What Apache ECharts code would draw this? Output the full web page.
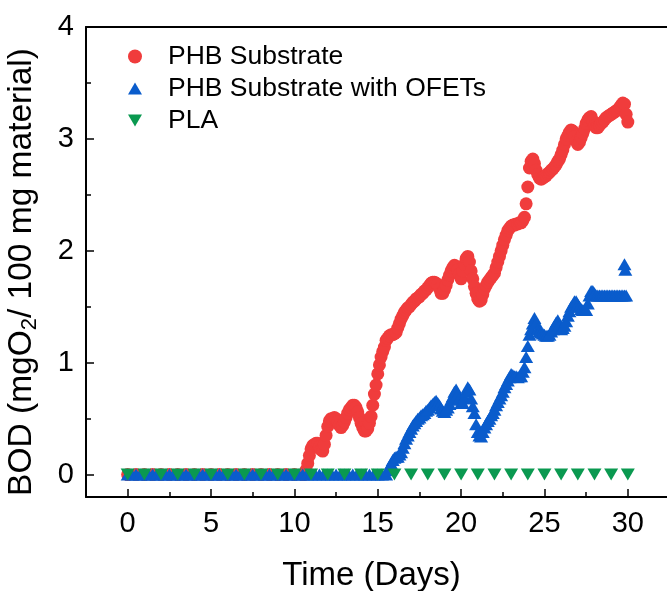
<!DOCTYPE html>
<html>
<head>
<meta charset="utf-8">
<script src="https://cdn.jsdelivr.net/npm/echarts@6/dist/echarts.min.js"></script>
<style>
  html, body { margin: 0; padding: 0; background: #fff; }
  #chart { width: 667px; height: 591px; }
</style>
</head>
<body>
<div id="chart"></div>
<script>
// tick labels
var xMajorTicks = [0, 5, 10, 15, 20, 25, 30];
var xMinorTicks = [2.5, 7.5, 12.5, 17.5, 22.5, 27.5];
var yMajorTicks = [0, 1, 2, 3, 4];
var yMinorTicks = [0.5, 1.5, 2.5, 3.5];

// PHB Substrate (time in days, BOD)
var phbDays = [0, 0.5, 1, 1.5, 2, 2.5, 3, 3.5, 4, 4.5, 5, 5.5, 6, 6.5, 7, 7.5, 8, 8.5, 9, 9.5, 10, 10.5,
  10.6, 10.7, 10.8, 10.9, 11.0, 11.1, 11.2, 11.3, 11.4, 11.5, 11.6, 11.7, 11.8, 11.9,
  12.0, 12.1, 12.2, 12.3, 12.4, 12.5, 12.6, 12.7, 12.8, 12.9, 13.0, 13.1, 13.2, 13.3, 13.4, 13.5, 13.6, 13.7, 13.8, 13.9,
  14.0, 14.1, 14.2, 14.3, 14.4, 14.5, 14.6, 14.7, 14.8, 14.9, 15.0, 15.1, 15.2, 15.3, 15.4, 15.5, 15.6, 15.7, 15.8, 15.9,
  16.0, 16.1, 16.2, 16.3, 16.4, 16.5, 16.6, 16.7, 16.8, 16.9, 17.0, 17.1, 17.2, 17.3, 17.4, 17.5, 17.6, 17.7, 17.8, 17.9,
  18.0, 18.1, 18.2, 18.3, 18.4, 18.5, 18.6, 18.7, 18.8, 18.9, 19.0, 19.1, 19.2, 19.3, 19.4, 19.5, 19.6, 19.7, 19.8, 19.9,
  20.0, 20.1, 20.2, 20.3, 20.4, 20.5, 20.6, 20.7, 20.8, 20.9, 21.0, 21.1, 21.2, 21.3, 21.4, 21.5, 21.6, 21.7, 21.8, 21.9,
  22.0, 22.1, 22.2, 22.3, 22.4, 22.5, 22.6, 22.7, 22.8, 22.9, 23.0, 23.1, 23.2, 23.3, 23.4, 23.5, 23.6, 23.7, 23.8, 23.9,
  24.0, 24.1, 24.2, 24.3, 24.4, 24.5, 24.6, 24.7, 24.8, 24.9, 25.0, 25.1, 25.2, 25.3, 25.4, 25.5, 25.6, 25.7, 25.8, 25.9,
  26.0, 26.1, 26.2, 26.3, 26.4, 26.5, 26.6, 26.7, 26.8, 26.9, 27.0, 27.1, 27.2, 27.3, 27.4, 27.5, 27.6, 27.7, 27.8, 27.9,
  28.0, 28.1, 28.2, 28.3, 28.4, 28.5, 28.6, 28.7, 28.8, 28.9, 29.0, 29.1, 29.2, 29.3, 29.4, 29.5, 29.6, 29.7, 29.8, 29.9,
  30.0];
var phbBOD = [0, 0, 0, 0, 0, 0, 0, 0, 0, 0, 0, 0, 0, 0, 0, 0, 0, 0, 0, 0, 0, 0,
  0.0, 0.04, 0.1, 0.17, 0.23, 0.26, 0.27, 0.28, 0.28, 0.25, 0.22, 0.21, 0.27, 0.35,
  0.43, 0.48, 0.5, 0.5, 0.51, 0.5, 0.47, 0.44, 0.42, 0.44, 0.47, 0.51, 0.55, 0.58, 0.6, 0.62, 0.62, 0.6, 0.56, 0.51,
  0.46, 0.42, 0.39, 0.39, 0.41, 0.46, 0.52, 0.62, 0.72, 0.8, 0.9, 0.98, 1.05, 1.1, 1.14, 1.2, 1.22, 1.24, 1.25, 1.25,
  1.26, 1.27, 1.31, 1.35, 1.39, 1.42, 1.45, 1.47, 1.49, 1.5, 1.52, 1.54, 1.55, 1.57, 1.58, 1.59, 1.61, 1.62, 1.64, 1.65,
  1.67, 1.69, 1.71, 1.72, 1.72, 1.71, 1.7, 1.66, 1.62, 1.62, 1.65, 1.69, 1.74, 1.78, 1.82, 1.85, 1.87, 1.86, 1.83, 1.79,
  1.75, 1.82, 1.88, 1.93, 1.95, 1.9, 1.82, 1.75, 1.68, 1.62, 1.57, 1.55, 1.56, 1.61, 1.66, 1.69, 1.72, 1.74, 1.76, 1.78,
  1.8, 1.85, 1.9, 1.95, 2.0, 2.05, 2.1, 2.14, 2.18, 2.2, 2.22, 2.23, 2.23, 2.24, 2.24, 2.25, 2.25, 2.27, 2.3, 2.42,
  2.57, 2.74, 2.8, 2.82, 2.78, 2.72, 2.68, 2.65, 2.64, 2.65, 2.66, 2.67, 2.69, 2.7, 2.72, 2.73, 2.75, 2.77, 2.8, 2.82,
  2.86, 2.9, 2.95, 3.0, 3.03, 3.06, 3.08, 3.07, 3.02, 2.98, 2.95, 2.97, 3.01, 3.05, 3.09, 3.14, 3.17, 3.19, 3.2, 3.16,
  3.12, 3.1, 3.1, 3.12, 3.14, 3.15, 3.17, 3.19, 3.2, 3.21, 3.22, 3.23, 3.24, 3.25, 3.26, 3.28, 3.3, 3.32, 3.31, 3.22,
  3.15];

// PHB Substrate with OFETs
var ofetDays = [0, 0.25, 0.5, 0.75, 1, 1.25, 1.5, 1.75, 2, 2.25, 2.5, 2.75, 3, 3.25, 3.5, 3.75, 4, 4.25, 4.5, 4.75,
  5, 5.25, 5.5, 5.75, 6, 6.25, 6.5, 6.75, 7, 7.25, 7.5, 7.75, 8, 8.25, 8.5, 8.75, 9, 9.25, 9.5, 9.75,
  10, 10.25, 10.5, 10.75, 11, 11.25, 11.5, 11.75, 12, 12.25, 12.5, 12.75, 13, 13.25, 13.5, 13.75,
  14, 14.25, 14.5, 14.75, 15, 15.25, 15.5, 15.6, 15.7, 15.8, 15.9,
  16.0, 16.1, 16.2, 16.3, 16.4, 16.5, 16.6, 16.7, 16.8, 16.9, 17.0, 17.1, 17.2, 17.3, 17.4, 17.5, 17.6, 17.7, 17.8, 17.9,
  18.0, 18.1, 18.2, 18.3, 18.4, 18.5, 18.6, 18.7, 18.8, 18.9, 19.0, 19.1, 19.2, 19.3, 19.4, 19.5, 19.6, 19.7, 19.8, 19.9,
  20.0, 20.1, 20.2, 20.3, 20.4, 20.5, 20.6, 20.7, 20.8, 20.9, 21.0, 21.1, 21.2, 21.3, 21.4, 21.5, 21.6, 21.7, 21.8, 21.9,
  22.0, 22.1, 22.2, 22.3, 22.4, 22.5, 22.6, 22.7, 22.8, 22.9, 23.0, 23.1, 23.2, 23.3, 23.4, 23.5, 23.6, 23.7, 23.8, 23.9,
  24.0, 24.1, 24.2, 24.3, 24.4, 24.5, 24.6, 24.7, 24.8, 24.9, 25.0, 25.1, 25.2, 25.3, 25.4, 25.5, 25.6, 25.7, 25.8, 25.9,
  26.0, 26.1, 26.2, 26.3, 26.4, 26.5, 26.6, 26.7, 26.8, 26.9, 27.0, 27.1, 27.2, 27.3, 27.4, 27.5, 27.6, 27.7, 27.8, 27.9,
  28.0, 28.1, 28.2, 28.3, 28.4, 28.5, 28.6, 28.7, 28.8, 28.9, 29.0, 29.1, 29.2, 29.3, 29.4, 29.5, 29.6, 29.7, 29.8, 29.9,
  29.8, 29.85];
var ofetBOD = [0, 0, 0, 0, 0, 0, 0, 0, 0, 0, 0, 0, 0, 0, 0, 0, 0, 0, 0, 0,
  0, 0, 0, 0, 0, 0, 0, 0, 0, 0, 0, 0, 0, 0, 0, 0, 0, 0, 0, 0,
  0, 0, 0, 0, 0, 0, 0, 0, 0, 0, 0, 0, 0, 0, 0, 0,
  0, 0, 0, 0, 0, 0, 0, 0.04, 0.07, 0.1, 0.13,
  0.15, 0.16, 0.16, 0.18, 0.2, 0.24, 0.28, 0.32, 0.35, 0.38, 0.41, 0.44, 0.46, 0.48, 0.5, 0.51, 0.53, 0.54, 0.55, 0.57,
  0.58, 0.6, 0.62, 0.63, 0.65, 0.66, 0.64, 0.62, 0.59, 0.57, 0.56, 0.58, 0.6, 0.63, 0.67, 0.7, 0.74, 0.76, 0.72, 0.68,
  0.64, 0.64, 0.69, 0.74, 0.78, 0.76, 0.68, 0.61, 0.55, 0.45, 0.38, 0.35, 0.34, 0.38, 0.42, 0.45, 0.48, 0.5, 0.53, 0.55,
  0.58, 0.62, 0.65, 0.68, 0.71, 0.74, 0.78, 0.81, 0.84, 0.87, 0.9, 0.89, 0.88, 0.88, 0.87, 0.88, 0.88, 0.92, 0.96, 1.05,
  1.15, 1.25, 1.3, 1.35, 1.4, 1.36, 1.3, 1.28, 1.27, 1.26, 1.25, 1.24, 1.24, 1.25, 1.28, 1.3, 1.33, 1.36, 1.38, 1.34,
  1.3, 1.31, 1.33, 1.37, 1.42, 1.46, 1.5, 1.52, 1.55, 1.55, 1.52, 1.5, 1.48, 1.47, 1.47, 1.47, 1.53, 1.6, 1.64, 1.64,
  1.62, 1.6, 1.6, 1.6, 1.6, 1.6, 1.6, 1.6, 1.6, 1.6, 1.6, 1.6, 1.6, 1.6, 1.6, 1.6, 1.6, 1.6, 1.6, 1.6,
  1.88, 1.83];

// PLA
var plaDays = [0, 1, 2, 3, 4, 5, 6, 7, 8, 9, 10, 11, 12, 13, 14, 15, 16, 17, 18, 19, 20,
  21, 22, 23, 24, 25, 26, 27, 28, 29, 30];
var plaBOD = [0, 0, 0, 0, 0, 0, 0, 0, 0, 0, 0, 0, 0, 0, 0, 0, 0, 0, 0, 0, 0,
  0, 0, 0, 0, 0, 0, 0, 0, 0, 0];

function pairs(xs, ys) {
  var out = [];
  for (var i = 0; i < xs.length; i++) out.push([xs[i], ys[i]]);
  return out;
}

var font = 'Liberation Sans, Arial, sans-serif';
var xMin = -2.5, xMax = 32.35;
var yMin = -0.2, yMax = 4;
var upTri = 'path://M7,0 L14,12 L0,12 Z';
var downTri = 'path://M0,0 L14,0 L7,12 Z';
var chart = echarts.init(document.getElementById('chart'));

var option = {
  animation: false,
  backgroundColor: '#fff',
  textStyle: { fontFamily: font },
  grid: { left: 86, top: 27, right: 0, bottom: 94, outerBoundsMode: 'none', containLabel: false },
  legend: {
    orient: 'vertical',
    left: 123, top: 38,
    itemWidth: 14, itemHeight: 14, itemGap: 5,
    textStyle: { fontSize: 26.5, color: '#000', fontFamily: font, padding: [0, 0, 0, 21] },
    data: [
      { name: 'PHB Substrate', icon: 'circle' },
      { name: 'PHB Substrate with OFETs', icon: upTri },
      { name: 'PLA', icon: downTri }
    ]
  },
  xAxis: [{
    type: 'value', min: xMin, max: xMax,
    name: 'Time (Days)', nameLocation: 'middle', nameGap: 62,
    nameTextStyle: { fontSize: 33, color: '#000', fontFamily: font, padding: [0, 10, 0, 0] },
    splitLine: { show: false },
    axisLine: { onZero: false, lineStyle: { color: '#000', width: 2 } },
    axisTick: { inside: true, length: 8, lineStyle: { color: '#000', width: 1.5 }, customValues: xMajorTicks },
    axisLabel: { fontSize: 29, color: '#000', margin: 12, fontFamily: font, customValues: xMajorTicks }
  }, {
    type: 'value', min: xMin, max: xMax, position: 'bottom',
    splitLine: { show: false },
    axisLine: { show: false, onZero: false },
    axisTick: { inside: true, length: 5, lineStyle: { color: '#000', width: 1.5 }, customValues: xMinorTicks },
    axisLabel: { show: false }
  }, {
    type: 'value', min: xMin, max: xMax, position: 'top',
    splitLine: { show: false },
    axisLine: { onZero: false, lineStyle: { color: '#000', width: 2 } },
    axisTick: { show: false },
    axisLabel: { show: false }
  }],
  yAxis: [{
    type: 'value', min: yMin, max: yMax,
    name: 'BOD (mgO{sub|2}/ 100 mg material)', nameLocation: 'middle', nameGap: 45, nameRotate: 90,
    nameTextStyle: {
      fontSize: 33.5, color: '#000', fontFamily: font, padding: [0, 20, 0, 0],
      rich: { sub: { fontSize: 22, color: '#000', fontFamily: font, padding: [16, 0, 0, 0] } }
    },
    splitLine: { show: false },
    axisLine: { onZero: false, lineStyle: { color: '#000', width: 2 } },
    axisTick: { inside: true, length: 8, lineStyle: { color: '#000', width: 1.5 }, customValues: yMajorTicks },
    axisLabel: { fontSize: 29, color: '#000', margin: 12, fontFamily: font, customValues: yMajorTicks }
  }, {
    type: 'value', min: yMin, max: yMax, position: 'left',
    splitLine: { show: false },
    axisLine: { show: false, onZero: false },
    axisTick: { inside: true, length: 5, lineStyle: { color: '#000', width: 1.5 }, customValues: yMinorTicks },
    axisLabel: { show: false }
  }],
  series: [{
    name: 'PHB Substrate', type: 'scatter',
    symbol: 'circle', symbolSize: 13,
    itemStyle: { color: '#f03c3c', opacity: 1 },
    data: pairs(phbDays, phbBOD), z: 2
  }, {
    name: 'PHB Substrate with OFETs', type: 'scatter',
    symbol: 'triangle', symbolSize: [14, 12],
    itemStyle: { color: '#0a5ccc', opacity: 1 },
    data: pairs(ofetDays, ofetBOD), z: 3
  }, {
    name: 'PLA', type: 'scatter',
    symbol: 'triangle', symbolRotate: 180, symbolSize: [14, 12],
    itemStyle: { color: '#0a9950', opacity: 1 },
    data: pairs(plaDays, plaBOD), z: 4
  }]
};
chart.setOption(option);
</script>
</body>
</html>
